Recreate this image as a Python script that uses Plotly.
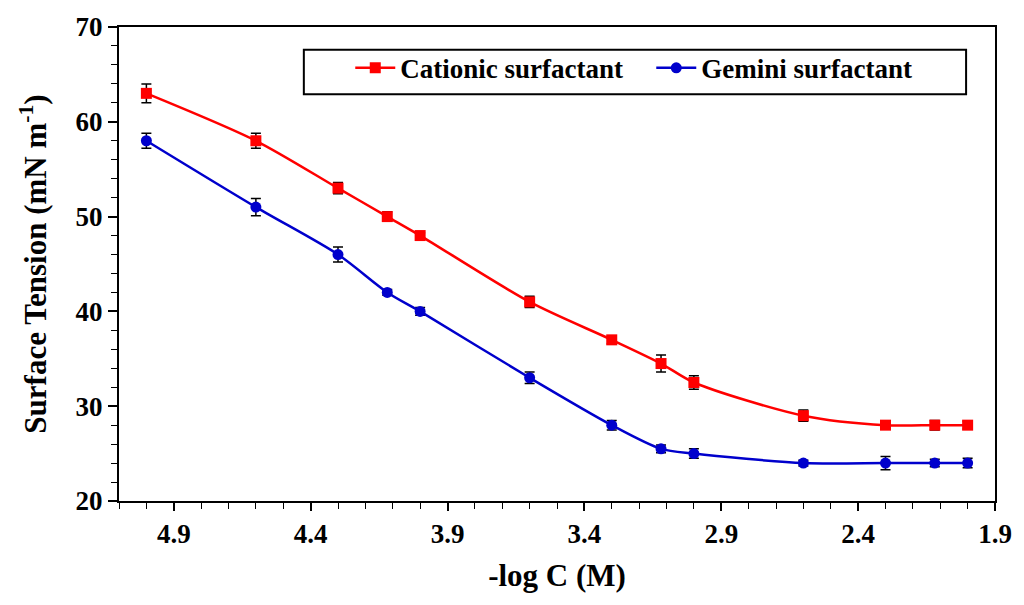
import plotly.graph_objects as go

neg_log_c = [5.0, 4.6, 4.3, 4.12, 4.0, 3.6, 3.3, 3.12, 3.0, 2.6, 2.3, 2.12, 2.0]
cationic = [63, 58, 53, 50, 48, 41, 37, 34.5, 32.5, 29, 28, 28, 28]
cationic_err = [1.0, 0.8, 0.6, 0.5, 0.3, 0.6, 0.4, 0.9, 0.7, 0.6, 0.3, 0.5, 0.4]
gemini = [58, 51, 46, 42, 40, 33, 28, 25.5, 25, 24, 24, 24, 24]
gemini_err = [0.8, 0.9, 0.8, 0.3, 0.4, 0.6, 0.5, 0.4, 0.5, 0.3, 0.7, 0.4, 0.5]

FONT = "Liberation Serif"

fig = go.Figure()
fig.add_trace(go.Scatter(
    x=neg_log_c, y=cationic, name="<b>Cationic surfactant</b>",
    mode="lines+markers",
    line=dict(color="#FF0000", width=2.5, shape="spline", smoothing=0.8),
    marker=dict(symbol="square", size=11, color="#FF0000"),
    error_y=dict(type="data", array=cationic_err, color="black", thickness=1.5, width=5),
))
fig.add_trace(go.Scatter(
    x=neg_log_c, y=gemini, name="<b>Gemini surfactant</b>",
    mode="lines+markers",
    line=dict(color="#0000CC", width=2.5, shape="spline", smoothing=0.8),
    marker=dict(symbol="circle", size=11, color="#0000CC"),
    error_y=dict(type="data", array=gemini_err, color="black", thickness=1.5, width=5),
))

# legend frame
fig.add_shape(type="rect", xref="paper", yref="paper",
              x0=0.211, x1=0.967, y0=0.858, y1=0.952,
              line=dict(color="black", width=2), fillcolor="white", layer="below")

fig.update_layout(
    width=1024, height=605,
    margin=dict(l=119, r=23, t=23, b=104),
    plot_bgcolor="white", paper_bgcolor="white",
    font=dict(family=FONT, color="black", size=26),
    legend=dict(
        orientation="h", x=0.264, y=0.913, xanchor="left", yanchor="middle",
        borderwidth=0, bgcolor="rgba(0,0,0,0)",
        font=dict(family=FONT, size=27, color="black"),
        entrywidth=246, itemwidth=40,
    ),
    showlegend=True,
)
fig.update_xaxes(
    range=[5.1, 1.9], tick0=1.9, dtick=0.5, tickformat=".1f",
    showline=True, linecolor="black", linewidth=2, mirror=True,
    ticks="outside", ticklen=8, tickwidth=1.5, tickcolor="black",
    minor=dict(dtick=0.1, ticks="outside", ticklen=6, tickwidth=1, tickcolor="black"),
    showgrid=False, zeroline=False,
    tickfont=dict(family=FONT, size=27, color="black"),
    tickprefix="<b>", ticksuffix="</b>",
    title=dict(text="<b>-log C (M)</b>", font=dict(family=FONT, size=31, color="black"), standoff=16),
)
fig.update_yaxes(
    range=[20, 70], tick0=20, dtick=10,
    showline=True, linecolor="black", linewidth=2, mirror=True,
    ticks="outside", ticklen=9, tickwidth=1.5, tickcolor="black",
    minor=dict(dtick=2, ticks="outside", ticklen=6, tickwidth=1, tickcolor="black"),
    showgrid=False, zeroline=False,
    tickfont=dict(family=FONT, size=27, color="black"),
    tickprefix="<b>", ticksuffix="</b>",
    title=dict(text="<b>Surface Tension (mN m<sup>-1</sup>)</b>", font=dict(family=FONT, size=31, color="black"), standoff=20),
)

fig.write_html("out.html")
